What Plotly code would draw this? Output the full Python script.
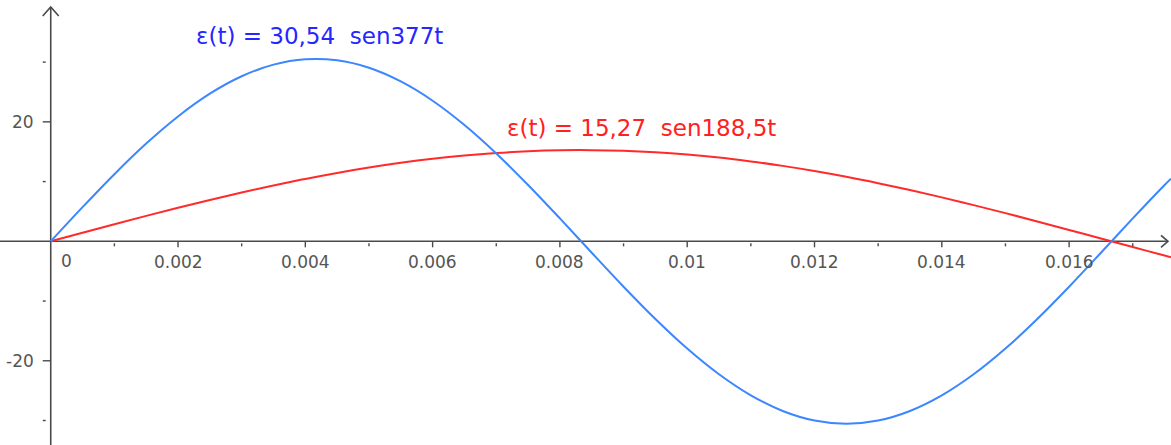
import plotly.graph_objects as go

# ---- data ----
t_vals = [i * 0.0005 for i in range(36)] + [0.0176]
blue_vals = [0, 5.72, 11.24, 16.36, 20.90, 24.71, 27.63, 29.58, 30.48, 30.30,
             29.05, 26.76, 23.54, 19.47, 14.71, 9.43, 3.83, -1.92, -7.60, -13.00,
             -17.95, -22.26, -25.79, -28.40, -30.00, -30.54, -30.00, -28.40, -25.79, -22.26,
             -17.95, -13.00, -7.60, -1.92, 3.83, 9.43, 10.5]
red_vals = [0, 1.44, 2.86, 4.26, 5.62, 6.93, 8.18, 9.36, 10.45, 11.45,
            12.35, 13.14, 13.82, 14.37, 14.79, 15.08, 15.24, 15.26, 15.15, 14.90,
            14.52, 14.02, 13.38, 12.63, 11.77, 10.80, 9.73, 8.58, 7.36, 6.06,
            4.72, 3.33, 1.91, 0.48, -0.96, -2.39, -2.67]
blue_label = "ε(t) = 30,54  sen377t"
red_label = "ε(t) = 15,27  sen188,5t"

x_major = [0.002, 0.004, 0.006, 0.008, 0.01, 0.012, 0.014, 0.016]
x_major_labels = ["0.002", "0.004", "0.006", "0.008", "0.01", "0.012", "0.014", "0.016"]
x_minor = [0.001, 0.003, 0.005, 0.007, 0.009, 0.011, 0.013, 0.015, 0.017]
y_major = [20, -20]
y_major_labels = ["20", "-20"]
y_minor = [30, 10, -10, -30]

X_RANGE = [-0.000797, 0.017601]
Y_RANGE = [-34.1, 40.4]

AXIS_COL = "#4a4a4a"
FONT_FAMILY = "DejaVu Sans, Verdana, sans-serif"
TICK_FONT = dict(family=FONT_FAMILY, size=17, color="#555555")

fig = go.Figure()
fig.add_trace(go.Scatter(x=t_vals, y=red_vals, mode="lines",
                         line=dict(color="#ff2a2a", width=2, shape="spline"),
                         hoverinfo="skip", showlegend=False))
fig.add_trace(go.Scatter(x=t_vals, y=blue_vals, mode="lines",
                         line=dict(color="#3c86ff", width=2, shape="spline"),
                         hoverinfo="skip", showlegend=False))

shapes = []
# axes
shapes.append(dict(type="line", xref="paper", yref="y", x0=0, x1=1168 / 1171, y0=0, y1=0,
                   line=dict(color=AXIS_COL, width=1.6), layer="below"))
shapes.append(dict(type="line", xref="x", yref="paper", x0=0, x1=0, y0=0, y1=1 - 7 / 445,
                   line=dict(color=AXIS_COL, width=1.6), layer="below"))
# arrows
shapes.append(dict(type="path", xref="paper", yref="y", xsizemode="pixel", ysizemode="pixel",
                   xanchor=1168 / 1171, yanchor=0, path="M -7,6 L 0,0 L -7,-6",
                   line=dict(color=AXIS_COL, width=1.6)))
shapes.append(dict(type="path", xref="x", yref="paper", xsizemode="pixel", ysizemode="pixel",
                   xanchor=0, yanchor=1 - 7 / 445, path="M -8,-9 L 0,0 L 8,-9",
                   line=dict(color=AXIS_COL, width=1.6)))
# ticks
for v in x_major:
    shapes.append(dict(type="line", xref="x", yref="y", ysizemode="pixel", yanchor=0,
                       x0=v, x1=v, y0=0, y1=-6, line=dict(color=AXIS_COL, width=1.4)))
for v in x_minor:
    shapes.append(dict(type="line", xref="x", yref="y", ysizemode="pixel", yanchor=0,
                       x0=v, x1=v, y0=-2, y1=-5, line=dict(color=AXIS_COL, width=1.4)))
for v in y_major:
    shapes.append(dict(type="line", xref="x", yref="y", xsizemode="pixel", xanchor=0,
                       x0=-8, x1=0, y0=v, y1=v, line=dict(color=AXIS_COL, width=1.4)))
for v in y_minor:
    shapes.append(dict(type="line", xref="x", yref="y", xsizemode="pixel", xanchor=0,
                       x0=-8, x1=-5, y0=v, y1=v, line=dict(color=AXIS_COL, width=1.4)))

annotations = []
for v, lab in zip(x_major, x_major_labels):
    annotations.append(dict(x=v, y=0, xref="x", yref="y", text=lab, showarrow=False,
                            xanchor="center", yanchor="middle", yshift=-21, font=TICK_FONT))
annotations.append(dict(x=0, y=0, xref="x", yref="y", text="0", showarrow=False,
                        xanchor="center", yanchor="middle", xshift=16, yshift=-20, font=TICK_FONT))
for v, lab in zip(y_major, y_major_labels):
    annotations.append(dict(x=0, y=v, xref="x", yref="y", text=lab, showarrow=False,
                            xanchor="right", yanchor="middle", xshift=-15, font=TICK_FONT))
annotations.append(dict(x=319 / 1171, y=1 - 36 / 445, xref="paper", yref="paper",
                        text=blue_label, showarrow=False, xanchor="center", yanchor="middle",
                        font=dict(family=FONT_FAMILY, size=23, color="#2626ff")))
annotations.append(dict(x=641 / 1171, y=1 - 128 / 445, xref="paper", yref="paper",
                        text=red_label, showarrow=False, xanchor="center", yanchor="middle",
                        font=dict(family=FONT_FAMILY, size=23, color="#ff2020")))

fig.update_layout(
    width=1171, height=445,
    margin=dict(l=0, r=0, t=0, b=0),
    paper_bgcolor="white", plot_bgcolor="white",
    xaxis=dict(range=X_RANGE, visible=False, fixedrange=True),
    yaxis=dict(range=Y_RANGE, visible=False, fixedrange=True),
    shapes=shapes, annotations=annotations,
)
fig.write_html("out.html", config={"displayModeBar": False},
               post_script="document.body.style.margin='0';")
